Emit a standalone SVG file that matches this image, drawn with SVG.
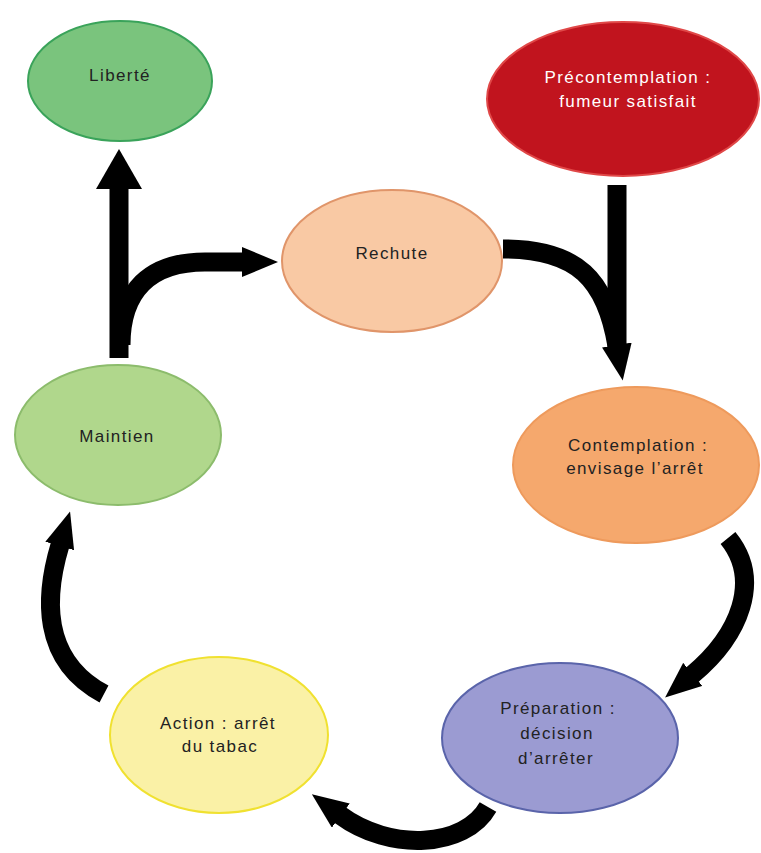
<svg xmlns="http://www.w3.org/2000/svg" width="761" height="853" viewBox="0 0 761 853">
  <style>
    .lbl { font-family: "Liberation Sans", Arial, sans-serif; font-size: 17px; letter-spacing: 1.4px; text-anchor: middle; fill: #222222; }
    .light { fill: #ffffff; }
    .flow { fill: none; stroke: #000000; stroke-width: 19; stroke-linecap: butt; }
    .node ellipse { stroke-width: 2; }
  </style>
  <defs>
    <marker id="head" markerUnits="userSpaceOnUse" markerWidth="36" markerHeight="30" viewBox="0 0 36 30" refX="1" refY="15" orient="auto">
      <path d="M0,0 L36,15 L0,30 z" fill="#000000"/>
    </marker>
    <marker id="headBig" markerUnits="userSpaceOnUse" markerWidth="40" markerHeight="46" viewBox="0 0 40 46" refX="1" refY="23" orient="auto">
      <path d="M0,0 L40,23 L0,46 z" fill="#000000"/>
    </marker>
  </defs>
  <rect width="761" height="853" fill="#ffffff"/>

  <!-- connectors -->
  <g id="connectors">
    <path class="flow" d="M119 358 L119 188" marker-end="url(#headBig)"/>
    <path class="flow" d="M121 345 C121 290 150 262 205 262 L243 262" marker-end="url(#head)"/>
    <path class="flow" d="M617 185 L617 350"/>
    <path class="flow" d="M503 249 C578 249 606 280 617 346" marker-end="url(#head)"/>
    <path class="flow" d="M728 538 C762 580 740 635 692 675" marker-end="url(#head)"/>
    <path class="flow" d="M488 807 C465 848 390 852 340 815" marker-end="url(#head)"/>
    <path class="flow" d="M104 694 C40 660 45 595 60 545" marker-end="url(#head)"/>
  </g>

  <!-- stages -->
  <g id="liberte" class="node">
    <ellipse cx="120" cy="81" rx="92" ry="60" fill="#7ac47d" stroke="#3aa35a"/>
    <text class="lbl" x="120" y="81">Liberté</text>
  </g>
  <g id="precontemplation" class="node">
    <ellipse cx="623" cy="99" rx="136" ry="77" fill="#c1141e" stroke="#e04848"/>
    <text class="lbl light" x="628" y="83">Précontemplation :</text>
    <text class="lbl light" x="628" y="107">fumeur satisfait</text>
  </g>
  <g id="rechute" class="node">
    <ellipse cx="392" cy="261" rx="110" ry="71" fill="#f9c9a4" stroke="#e0956a"/>
    <text class="lbl" x="392" y="259">Rechute</text>
  </g>
  <g id="maintien" class="node">
    <ellipse cx="118" cy="435" rx="103" ry="70" fill="#b0d78c" stroke="#8cbc6c"/>
    <text class="lbl" x="117" y="442">Maintien</text>
  </g>
  <g id="contemplation" class="node">
    <ellipse cx="636" cy="465" rx="123" ry="78" fill="#f5a86d" stroke="#ee9a5c"/>
    <text class="lbl" x="638" y="451">Contemplation :</text>
    <text class="lbl" x="635" y="474">envisage l’arrêt</text>
  </g>
  <g id="preparation" class="node">
    <ellipse cx="560" cy="738" rx="118" ry="75" fill="#9b9bd2" stroke="#5a64aa"/>
    <text class="lbl" x="558" y="714">Préparation :</text>
    <text class="lbl" x="557" y="739">décision</text>
    <text class="lbl" x="556" y="764">d’arrêter</text>
  </g>
  <g id="action" class="node">
    <ellipse cx="219" cy="735" rx="109" ry="78" fill="#faf1a6" stroke="#f0e130"/>
    <text class="lbl" x="218" y="729">Action : arrêt</text>
    <text class="lbl" x="220" y="752">du tabac</text>
  </g>
</svg>
